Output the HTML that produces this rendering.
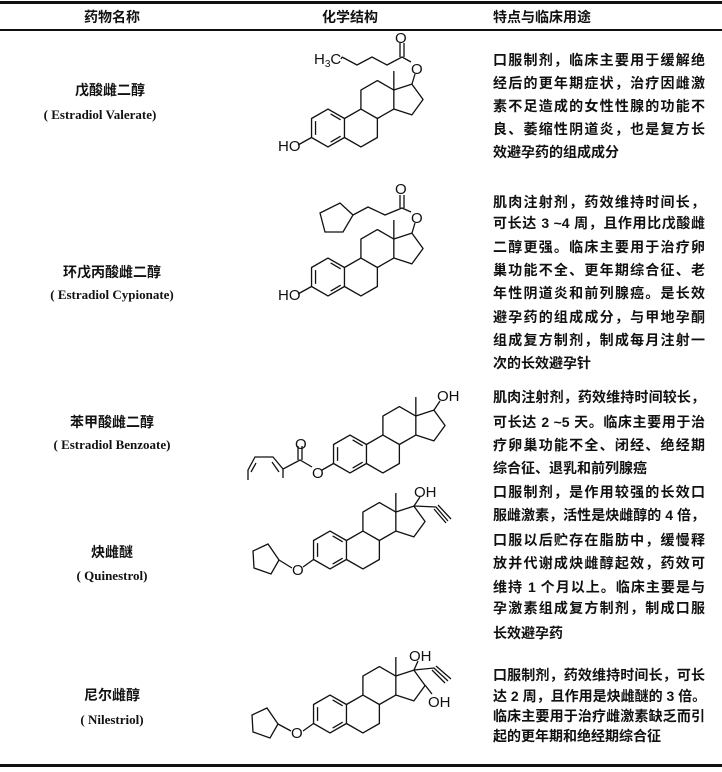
<!DOCTYPE html>
<html><head><meta charset="utf-8">
<style>
body{margin:0;background:#fff;}
#p{position:relative;width:722px;height:772px;overflow:hidden;background:#fff;font-family:"Liberation Serif","Noto Serif CJK SC","Noto Sans CJK SC",serif;color:#111;}
.ln{position:absolute;left:0;width:722px;background:#111;}
.c{position:absolute;text-align:center;white-space:nowrap;}
.cn{font-family:"Liberation Sans","Noto Sans CJK SC",sans-serif;font-weight:bold;font-size:14px;line-height:18px;}
.en{font-size:13px;line-height:18px;font-weight:bold;}
.t{position:absolute;left:493px;width:212px;font-family:"Liberation Sans","Noto Sans CJK SC",sans-serif;font-weight:bold;font-size:14px;line-height:18px;text-align:justify;text-align-last:justify;white-space:nowrap;}
.t.l{text-align-last:left;}
svg{position:absolute;left:0;top:0;}
svg text{font-family:"Liberation Sans",sans-serif;font-size:15px;fill:#111;}
</style></head><body><div id="p">
<div class="ln" style="top:1px;height:3px"></div>
<div class="ln" style="top:29px;height:1.5px"></div>
<div class="ln" style="top:764px;height:3px"></div>

<div class="c cn" style="left:60px;width:104px;top:8px">药物名称</div>
<div class="c cn" style="left:300px;width:100px;top:8px">化学结构</div>
<div class="c cn" style="left:493px;width:105px;top:8px;text-align:left">特点与临床用途</div>

<div class="c cn" style="left:0;width:220px;top:81px">戊酸雌二醇</div>
<div class="c en" style="left:0;width:200px;top:106px">( Estradiol Valerate)</div>
<div class="c cn" style="left:0;width:224px;top:263px">环戊丙酸雌二醇</div>
<div class="c en" style="left:0;width:224px;top:286px">( Estradiol Cypionate)</div>
<div class="c cn" style="left:0;width:224px;top:413px">苯甲酸雌二醇</div>
<div class="c en" style="left:0;width:224px;top:436px">( Estradiol Benzoate)</div>
<div class="c cn" style="left:0;width:224px;top:543px">炔雌醚</div>
<div class="c en" style="left:0;width:224px;top:567px">( Quinestrol)</div>
<div class="c cn" style="left:0;width:224px;top:686px">尼尔雌醇</div>
<div class="c en" style="left:0;width:224px;top:711px">( Nilestriol)</div>

<div class="t" style="top:51px">口服制剂，临床主要用于缓解绝</div>
<div class="t" style="top:74px">经后的更年期症状，治疗因雌激</div>
<div class="t" style="top:97px">素不足造成的女性性腺的功能不</div>
<div class="t" style="top:120px">良、萎缩性阴道炎，也是复方长</div>
<div class="t l" style="top:143px">效避孕药的组成成分</div>

<div class="t" style="top:193px">肌肉注射剂，药效维持时间长，</div>
<div class="t" style="top:214px">可长达 3 ~4 周，且作用比戊酸雌</div>
<div class="t" style="top:238px">二醇更强。临床主要用于治疗卵</div>
<div class="t" style="top:261px">巢功能不全、更年期综合征、老</div>
<div class="t" style="top:284px">年性阴道炎和前列腺癌。是长效</div>
<div class="t" style="top:308px">避孕药的组成成分，与甲地孕酮</div>
<div class="t" style="top:331px">组成复方制剂，制成每月注射一</div>
<div class="t l" style="top:354px">次的长效避孕针</div>

<div class="t" style="top:388px">肌肉注射剂，药效维持时间较长，</div>
<div class="t" style="top:413px">可长达 2 ~5 天。临床主要用于治</div>
<div class="t" style="top:436px">疗卵巢功能不全、闭经、绝经期</div>
<div class="t l" style="top:459px">综合征、退乳和前列腺癌</div>

<div class="t" style="top:483px">口服制剂，是作用较强的长效口</div>
<div class="t" style="top:506px">服雌激素，活性是炔雌醇的 4 倍，</div>
<div class="t" style="top:531px">口服以后贮存在脂肪中，缓慢释</div>
<div class="t" style="top:554px">放并代谢成炔雌醇起效，药效可</div>
<div class="t" style="top:578px">维持 1 个月以上。临床主要是与</div>
<div class="t" style="top:599px">孕激素组成复方制剂，制成口服</div>
<div class="t l" style="top:624px">长效避孕药</div>

<div class="t" style="top:666px">口服制剂，药效维持时间长，可长</div>
<div class="t" style="top:687px">达 2 周，且作用是炔雌醚的 3 倍。</div>
<div class="t" style="top:707px">临床主要用于治疗雌激素缺乏而引</div>
<div class="t l" style="top:727px">起的更年期和绝经期综合征</div>

<svg width="722" height="772" viewBox="0 0 722 772">
<defs>
<g id="st" fill="none" stroke="#111" stroke-width="1.25" stroke-linejoin="round">
<path d="M0,-18 L15.6,-9 L15.6,9 L0,18 L-15.6,9 L-15.6,-9 Z"/>
<path d="M2.5,-13.3 L12,-7.8 M12,7.8 L2.5,13.3 M-11.8,-6.5 L-11.8,6.5"/>
<path d="M15.6,-9 L31.2,-18 L46.8,-9 L46.8,9 L31.2,18 L15.6,9"/>
<path d="M31.2,-18 L31.2,-36 L46.8,-45 L62.4,-36 L62.4,-18 L46.8,-9"/>
<path d="M62.4,-36 L79.5,-41.6 L90.1,-27 L79.5,-12.4 L62.4,-18"/>
<path d="M62.4,-36 L62.4,-54"/>
</g>
</defs>
<g fill="none" stroke="#111" stroke-width="1.3">
<!-- S1 -->
<use href="#st" transform="translate(328,128) scale(1.055)"/>
<path d="M311.5,137.5 L298,145"/>
<path d="M412,84 L415,74 M411,62 L402,57 L387,65 L372,57 L357,65 L342,57 M342,57 L341,59"/>
<path d="M400,57 L400,43 M404,57 L404,43"/>
<!-- S2 -->
<use href="#st" transform="translate(328,277) scale(1.055)"/>
<path d="M311.5,286.5 L298,294"/>
<path d="M412,233 L415,223 M411,212 L402,208 L385,215 L368,207 L353,215"/>
<path d="M400,208 L400,195 M404,208 L404,195"/>
<path d="M353,215 L340,203 L320,213 L325,232 L343,232 Z"/>
<!-- S3 -->
<use href="#st" transform="translate(350,454) scale(1.055)"/>
<path d="M333.5,463.5 L322,470 M312,467 L300,460 L283,469 L283,478"/>
<path d="M298,460 L298,446 M302,460 L302,446"/>
<path d="M283,469 L273,457 L255,457 L248,470 L248,480 M272,462 L279,472 M256,463 L251,472"/>
<path d="M434,410 L440,401"/>
<!-- S4 -->
<use href="#st" transform="translate(330,550) scale(1.055)"/>
<path d="M313.5,559.5 L303,567 M292,568 L279,560"/>
<path d="M279,560 L268,544 L253,551 L254,568 L271,574 Z"/>
<path d="M414,506 L420,497 M414,506 L436,507 L448,521 M438,505 L451,519 M434,509 L446,523"/>
<!-- S5 -->
<use href="#st" transform="translate(330,714) scale(1.055)"/>
<path d="M313.5,723.5 L303,731 M291,731 L278,724"/>
<path d="M278,724 L267,708 L252,715 L253,732 L270,738 Z"/>
<path d="M414,670 L418,661 M414,670 L434,668 L448,681 M436,666 L451,679 M432,670 L445,683"/>
<path d="M425,685 L432,694"/>
</g>
<text x="314" y="64">H<tspan font-size="10" dy="3">3</tspan><tspan dy="-3">C</tspan></text>
<text x="395" y="43">O</text>
<text x="411" y="74">O</text>
<text x="278" y="151">HO</text>
<text x="395" y="194">O</text>
<text x="411" y="223">O</text>
<text x="278" y="300">HO</text>
<text x="295" y="449">O</text>
<text x="312" y="478">O</text>
<text x="437" y="401">OH</text>
<text x="414" y="497">OH</text>
<text x="292" y="575">O</text>
<text x="409" y="661">OH</text>
<text x="291" y="738">O</text>
<text x="428" y="707">OH</text>
</svg>
</div></body></html>
